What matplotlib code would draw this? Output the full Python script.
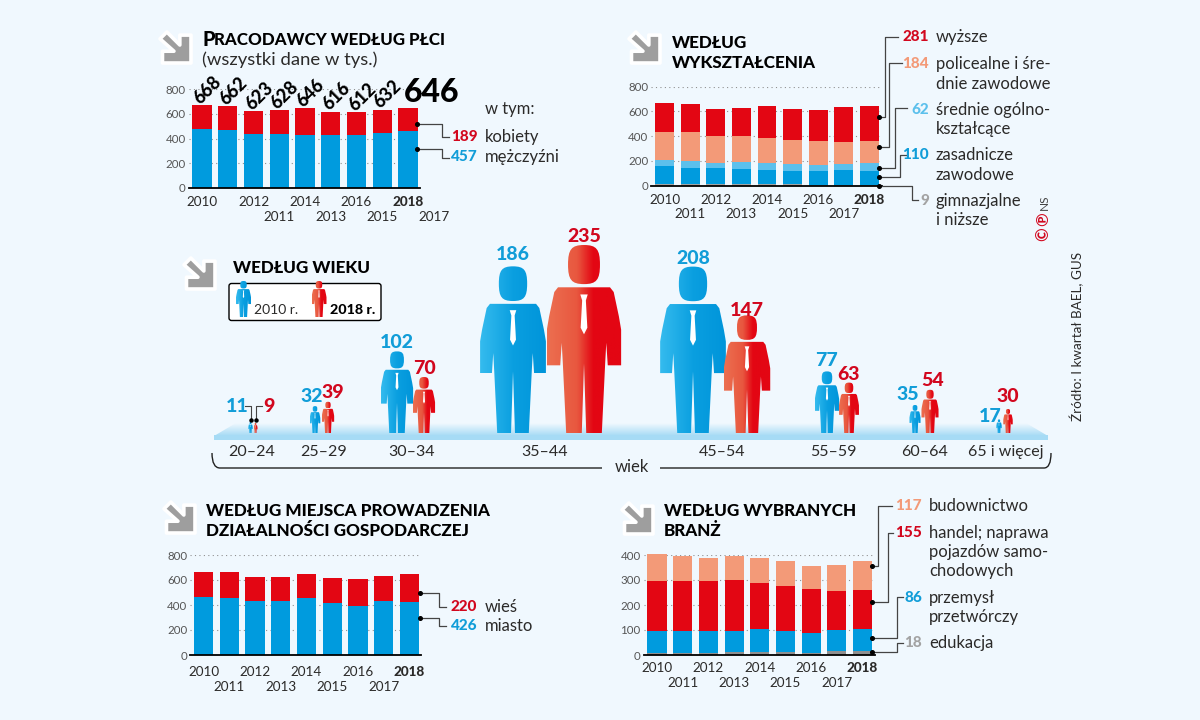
#!/usr/bin/env python
# coding: utf-8
import numpy as np
import matplotlib
matplotlib.use('Agg')
import matplotlib.pyplot as plt
from matplotlib.colors import LinearSegmentedColormap
from matplotlib.patches import FancyBboxPatch, PathPatch, Polygon
from matplotlib.path import Path
from matplotlib.transforms import Affine2D

plt.rcParams['font.family'] = ['Lato', 'DejaVu Sans']

# the data
years = ['2010', '2011', '2012', '2013', '2014', '2015', '2016', '2017', '2018']
totals = [668, 662, 623, 628, 646, 616, 612, 632, 646]

gender_men = [480, 466, 438, 433, 432, 428, 428, 447, 457]
gender_women = [188, 196, 185, 195, 214, 188, 184, 185, 189]

edu_lower = [14, 12, 11, 11, 10, 10, 9, 9, 9]
edu_vocational = [144, 135, 129, 127, 114, 110, 113, 115, 110]
edu_general = [49, 50, 46, 50, 56, 58, 42, 51, 62]
edu_post = [229, 234, 215, 213, 202, 191, 194, 180, 184]
edu_higher = [232, 231, 222, 227, 264, 247, 254, 277, 281]

place_city = [465, 460, 432, 432, 457, 418, 395, 432, 426]
place_rural = [203, 202, 191, 196, 189, 198, 217, 200, 220]

branch_edu = [8, 8, 9, 11, 13, 11, 10, 15, 18]
branch_industry = [90, 88, 86, 87, 91, 87, 77, 86, 86]
branch_trade = [200, 202, 203, 203, 183, 178, 177, 156, 155]
branch_building = [106, 100, 90, 96, 102, 99, 94, 104, 117]

age_groups = ['20–24', '25–29', '30–34', '35–44', '45–54', '55–59', '60–64', '65 i więcej']
age_2010 = [11, 32, 102, 186, 208, 77, 35, 17]
age_2018 = [9, 39, 70, 235, 147, 63, 54, 30]

# colours
BG = '#F0F8FE'
RED = '#E30613'
BLUE = '#009BDE'
SALMON = '#F39A78'
LIGHTBLUE = '#5CC0EC'
GREY = '#A3A3A3'
DARK = '#2B2A29'
TEXTRED = '#D2071E'
TEXTBLUE = '#119DD8'

W, H = 1200, 720
fig = plt.figure(figsize=(W / 100, H / 100), dpi=100, facecolor=BG)

# overlay in image pixels, everything that is not a chart goes here
over = fig.add_axes([0, 0, 1, 1], zorder=5)
over.set_xlim(0, W)
over.set_ylim(H, 0)
over.axis('off')
over.patch.set_alpha(0)


def put(x, y, s, size=12, color=DARK, weight='normal', ha='left', **kw):
    return over.text(x, y, s, fontsize=size, color=color, fontweight=weight,
                     ha=ha, va='center', **kw)


def title(x, y, s, size=12.3):
    return put(x, y, s, size=size, color='black', weight=900)


def icon(x, y, w=31, h=31):
    pts = [(1, .1), (1, 1), (.08, 1), (.08, .62), (.45, .62), (0, .22), (.22, 0), (.64, .42), (.64, .1)]
    pts = [(x + a * w, y + b * h) for a, b in pts]
    over.add_patch(Polygon(pts, closed=True, fc='#9E9E9E', ec='white', lw=2.6, joinstyle='round'))


def leader(points, num, num_color, lines, x_num, x_txt, y_lines):
    xs, ys = zip(*points)
    over.plot(xs, ys, color='#444444', lw=0.9, solid_joinstyle='round')
    over.plot(xs[0], ys[0], 'o', color='black', ms=2.6)
    put(x_num, y_lines[0], num, size=11, color=num_color, weight=900, ha='right')
    for s, yy in zip(lines, y_lines):
        put(x_txt, yy, s)


def stacked(c0, c8, y0, ytop, ymax, series, colors, ytl, row1, row2, odd_shift=0):
    # axes placed in pixels, one x unit is the distance between two bars
    step = (c8 - c0) / 8
    left, right = c0 - 13.5, c8 + 12
    ax = fig.add_axes([left / W, 1 - y0 / H, (right - left) / W, (y0 - ytop) / H])
    ax.set_xlim((left - c0) / step, (right - c0) / step)
    ax.set_ylim(0, ymax)
    ax.patch.set_alpha(0)
    x = np.arange(len(years))
    bottom = np.zeros(len(years))
    for vals, col in zip(series, colors):
        ax.bar(x, vals, width=0.74, bottom=bottom, color=col, zorder=3, lw=0, clip_on=False)
        bottom = bottom + np.array(vals)
    for sp in ['top', 'right', 'left']:
        ax.spines[sp].set_visible(False)
    ax.spines['bottom'].set_linewidth(1.3)
    ax.spines['bottom'].set_zorder(4)
    ax.set_yticks(ytl)
    ax.tick_params(axis='y', length=0, labelsize=8.3, labelcolor='#555555', pad=2)
    ax.set_xticks([])
    ax.grid(axis='y', color='#8F8F8F', ls=(0, (1, 3)), lw=0.8, zorder=0)
    ax.set_axisbelow(True)
    for i, yr in enumerate(years):
        even = i % 2 == 0
        pos = i if even else i + odd_shift
        ax.annotate(yr, (pos, 0), xycoords=('data', 'axes fraction'),
                    xytext=(0, -(row1 if even else row2) * 0.72), textcoords='offset points',
                    ha='center', va='center', fontsize=9.7, color=DARK,
                    fontweight=900 if yr == '2018' else 'normal', annotation_clip=False)
    return ax


# --- chart 1
icon(160, 32)
put(202, 39, 'P', size=14.5, color='black', weight=900)
title(214.5, 40, 'RACODAWCY WEDŁUG PŁCI', size=12.2)
put(202, 60, '(wszystki dane w tys.)', size=13.3)
ax1 = stacked(202, 408, 188, 89, 800, [gender_men, gender_women], [BLUE, RED],
              [0, 200, 400, 600, 800], 14, 29, odd_shift=2)
for i, t in enumerate(totals[:-1]):
    ax1.annotate(str(t), (i, t), xytext=(4, 11), textcoords='offset points', rotation=45,
                 rotation_mode='anchor', ha='center', va='center', fontsize=13,
                 fontweight=900, color='black', annotation_clip=False, zorder=6)
put(432, 92, str(totals[-1]), size=23, color='black', weight=900, ha='center')
put(485, 109, 'w tym:')
leader([(417, 124), (442, 124), (442, 137), (449, 137)], '189', TEXTRED, ['kobiety'], 478, 485, [137])
leader([(417, 149), (442, 149), (442, 158), (449, 158)], '457', TEXTBLUE, ['mężczyźni'], 478, 485, [157])

# --- chart 2
icon(629, 32)
title(672, 43, 'WEDŁUG')
title(672, 63, 'WYKSZTAŁCENIA')
stacked(664.5, 869.5, 185.7, 86.7, 800,
        [edu_lower, edu_vocational, edu_general, edu_post, edu_higher],
        [GREY, BLUE, LIGHTBLUE, SALMON, RED], [0, 200, 400, 600, 800], 14, 28)
leader([(879, 117), (885, 117), (885, 37), (898, 37)], '281', TEXTRED, ['wyższe'], 929, 936, [37])
leader([(879, 147), (889, 147), (889, 63), (902, 63)], '184', SALMON,
       ['policealne i śre-', 'dnie zawodowe'], 929, 936, [64, 84])
leader([(879, 168), (895, 168), (895, 108), (907, 108)], '62', LIGHTBLUE,
       ['średnie ogólno-', 'kształcące'], 929, 936, [110, 129])
leader([(879, 177), (900, 177), (900, 155), (907, 155)], '110', TEXTBLUE,
       ['zasadnicze', 'zawodowe'], 929, 936, [155, 175])
leader([(879, 186), (912, 186), (912, 200), (918, 200)], '9', GREY,
       ['gimnazjalne', 'i niższe'], 929, 936, [201, 220])
put(1044, 202, 'NS', size=8.5, color='#444444', rotation=90, ha='center')
put(1043, 219, '\u2117', size=12, color=TEXTRED, weight='bold', rotation=90, ha='center')
put(1043, 234, '\u00a9', size=12, color=TEXTRED, weight='bold', rotation=90, ha='center')
put(1077, 336, 'Źródło: I kwartał BAEL, GUS', size=9.7, rotation=90, ha='center')

# --- floor strip under the people, it has to stay behind them
floor_ax = fig.add_axes([0, 0, 1, 1], zorder=2)
floor_ax.set_xlim(0, W)
floor_ax.set_ylim(H, 0)
floor_ax.axis('off')
floor_ax.patch.set_alpha(0)
floor = np.linspace(0, 1, 32).reshape(-1, 1)
cm_floor = LinearSegmentedColormap.from_list('f', [BG, '#A6DBF5'])
im = floor_ax.imshow(floor, cmap=cm_floor, aspect='auto', extent=[214, 1048, 436, 423])
clip = Polygon([(214, 436), (236, 423), (1026, 423), (1048, 436)], closed=True, fc='none', ec='none',
               transform=floor_ax.transData)
floor_ax.add_patch(clip)
im.set_clip_path(clip)
floor_ax.add_patch(Polygon([(214, 435), (1048, 435), (1048, 440), (214, 440)], closed=True, fc='#A6DBF5', ec='none'))
floor_ax.set_xlim(0, W)
floor_ax.set_ylim(H, 0)

# --- people, the y axis of this layer is the value itself
FEET = 433
PX_PER_UNIT = 0.8
people = fig.add_axes([0, 1 - FEET / H, 1, 200 / H], zorder=3)
people.axis('off')
people.patch.set_alpha(0)

cm_blue = LinearSegmentedColormap.from_list('b', ['#35BBEE', '#0A9FE0', '#0095DA'])
cm_red = LinearSegmentedColormap.from_list('r', [(0, '#EC6F50'), (.4, '#E8573F'), (.62, '#E30613'), (1, '#E30613')])

body_verts = [(-.24, 0), (-.03, 0), (0, .37), (.03, 0), (.24, 0), (.285, .37), (.30, .48), (.32, .36), (.5, .36),
              (.5, .55), (.47, .62), (.40, .75), (.35, .775), (-.35, .775), (-.40, .75), (-.47, .62), (-.5, .55),
              (-.5, .36), (-.32, .36), (-.30, .48), (-.285, .37), (-.24, 0)]
body_codes = [Path.MOVETO] + [Path.LINETO] * (len(body_verts) - 2) + [Path.CLOSEPOLY]
# rounded-square head
rx, ry, k = .215, .104, .78
hc = .896
head = Path([(0, hc + ry), (k * rx, hc + ry), (rx, hc + k * ry), (rx, hc), (rx, hc - k * ry), (k * rx, hc - ry), (0, hc - ry),
             (-k * rx, hc - ry), (-rx, hc - k * ry), (-rx, hc), (-rx, hc + k * ry), (-k * rx, hc + ry), (0, hc + ry), (0, hc + ry)],
            [Path.MOVETO] + [Path.CURVE4] * 12 + [Path.CLOSEPOLY])
silhouette = Path.make_compound_path(Path(body_verts, body_codes), head)
tie = Path([(-.05, .737), (.05, .737), (.025, .705), (.045, .56), (0, .525), (-.045, .56), (-.025, .705), (-.05, .737)],
           closed=True)
grad = np.linspace(0, 1, 64).reshape(1, -1)


def person(axis, cx, height_units, cmap, width_px):
    # unit figure scaled to width in pixels and height in values
    tr = Affine2D().scale(width_px, height_units).translate(cx, 0) + axis.transData
    patch = PathPatch(silhouette, transform=tr, fc='none', ec='none')
    axis.add_patch(patch)
    im = axis.imshow(grad, cmap=cmap, aspect='auto', zorder=2,
                     extent=[cx - width_px / 2, cx + width_px / 2, 0, height_units])
    im.set_clip_path(patch)
    axis.add_patch(PathPatch(tie, transform=tr, fc='white', ec='none', zorder=3))


# the drawn figures follow the values, a few were drawn bigger in the source
stretch_2010 = [1.25, 1.05, 1, 1.12, 1, 1, 1, 1]
stretch_2018 = [1.4, 1, 1, 1, 1, 1, 1, 1]
cx_2010 = [250.5, 315, 397, 513, 693, 827, 915, 999]
cx_2018 = [255.5, 328, 424, 584, 747, 849, 930, 1008]

for i in range(len(age_groups)):
    for vals, st, cxs, cm in [(age_2010, stretch_2010, cx_2010, cm_blue), (age_2018, stretch_2018, cx_2018, cm_red)]:
        hh = vals[i] * st[i]
        person(people, cxs[i], hh, cm, 0.395 * hh * PX_PER_UNIT)
people.set_xlim(0, W)
people.set_ylim(0, 200 / PX_PER_UNIT)

icon(184, 258)
title(233, 268, 'WEDŁUG WIEKU')
over.add_patch(FancyBboxPatch((229, 283.5), 152, 37, boxstyle='round,pad=0,rounding_size=2.5',
                              fc='white', ec='black', lw=1, zorder=1))
legend_ax = fig.add_axes([0, 1 - 317 / H, 1, 40 / H], zorder=6)
legend_ax.axis('off')
legend_ax.patch.set_alpha(0)
person(legend_ax, 243.5, 36, cm_blue, 15)
person(legend_ax, 319, 36, cm_red, 15)
legend_ax.set_xlim(0, W)
legend_ax.set_ylim(0, 40)
put(254, 310, '2010 r.', size=10)
put(330, 310, '2018 r.', size=10.3, weight=900, color='black')

# value labels over the figures
lab_2010 = [(237, 406), (312, 397), (397, 342), (513, 254), (693, 258), (827, 360), (908, 394), (990, 417)]
lab_2018 = [(269, 406), (333, 393), (424, 369), (584, 237), (747, 311), (849, 375), (933, 381), (1008, 397)]
for v, (lx, ly) in zip(age_2010, lab_2010):
    put(lx, ly, str(v), size=14, color=TEXTBLUE, weight=900, ha='center')
for v, (lx, ly) in zip(age_2018, lab_2018):
    put(lx, ly, str(v), size=14, color=TEXTRED, weight=900, ha='center')
over.plot([245, 250.5, 250.5], [406, 406, 420], color='#444444', lw=0.8)
over.plot([262, 255.5, 255.5], [406, 406, 420], color='#444444', lw=0.8)
over.plot([250.5, 255.5], [420, 420], 'o', color='black', ms=2.2)

age_x = [252, 324, 412, 545, 722, 833, 925, 1006]
for s, ax_x in zip(age_groups, age_x):
    put(ax_x, 452, s, size=11.5, ha='center')
over.add_patch(PathPatch(Path([(212, 453), (212, 468), (220, 468), (602, 468)],
                              [Path.MOVETO, Path.CURVE3, Path.CURVE3, Path.LINETO]),
                         fc='none', ec='#222222', lw=1))
over.add_patch(PathPatch(Path([(660, 468), (1044, 468), (1051, 468), (1051, 453)],
                              [Path.MOVETO, Path.LINETO, Path.CURVE3, Path.CURVE3]),
                         fc='none', ec='#222222', lw=1))
put(632, 467, 'wiek', size=12, ha='center')

# --- chart 3
icon(164, 502)
title(206, 511, 'WEDŁUG MIEJSCA PROWADZENIA')
title(206, 531, 'DZIAŁALNOŚCI GOSPODARCZEJ')
stacked(203.5, 409.5, 655, 555, 800, [place_city, place_rural], [BLUE, RED], [0, 200, 400, 600, 800], 17, 32)
leader([(420, 593), (439, 593), (439, 607), (446, 607)], '220', TEXTRED, ['wieś'], 477, 485, [607])
leader([(420, 618), (439, 618), (439, 626), (446, 626)], '426', TEXTBLUE, ['miasto'], 477, 485, [626])

# --- chart 4
icon(622, 503)
title(664, 511, 'WEDŁUG WYBRANYCH')
title(664, 531, 'BRANŻ')
stacked(657, 862.5, 655, 555, 400, [branch_edu, branch_industry, branch_trade, branch_building],
        ['#8F8F8F', BLUE, RED, SALMON], [0, 100, 200, 300, 400], 13, 28)
leader([(872, 566), (878, 566), (878, 506), (892, 506)], '117', SALMON, ['budownictwo'], 922, 929, [506])
leader([(872, 602), (888, 602), (888, 533), (893, 533)], '155', TEXTRED,
       ['handel; naprawa', 'pojazdów samo-', 'chodowych'], 922, 929, [533, 552, 571])
leader([(872, 638), (897, 638), (897, 597), (903, 597)], '86', TEXTBLUE,
       ['przemysł', 'przetwórczy'], 922, 929, [598, 617])
leader([(872, 652), (897, 652), (897, 643), (903, 643)], '18', GREY, ['edukacja'], 922, 929, [643])

fig.savefig('out.png', dpi=100, facecolor=BG)
